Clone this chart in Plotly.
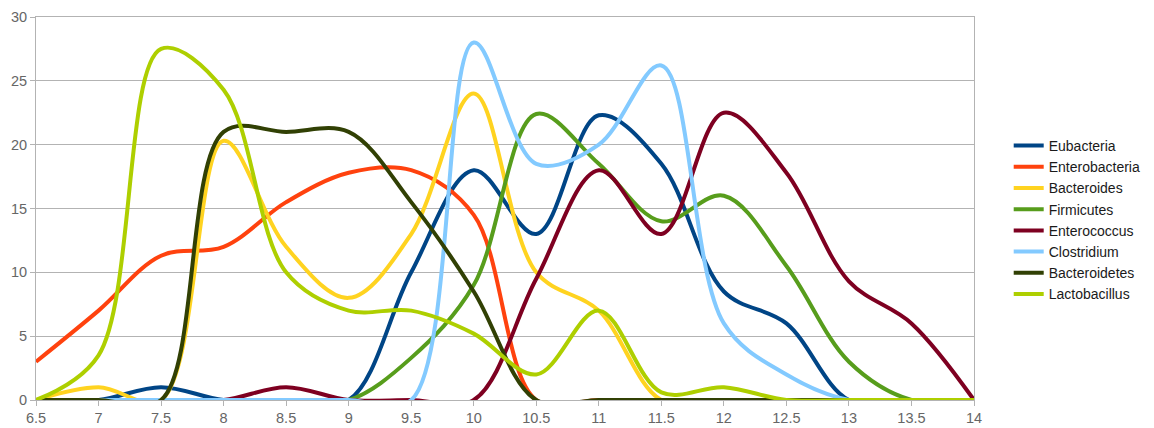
import plotly.graph_objects as go

x_vals = [6.5, 7, 7.5, 8, 8.5, 9, 9.5, 10, 10.5, 11, 11.5, 12, 12.5, 13, 13.5, 14]

eubacteria = [0, 0, 1, 0, 0, 0, 10, 18, 13, 22.3, 18.5, 8.5, 6, 0, 0, 0]
enterobacteria = [3, 7, 11.3, 12, 15.5, 17.8, 18, 14.5, 0, 0, 0, 0, 0, 0, 0, 0]
bacteroides = [0, 1, 0, 20.3, 12, 8, 13, 24, 10, 7, 0, 0, 0, 0, 0, 0]
firmicutes = [0, 0, 0, 0, 0, 0, 3.3, 9, 22.4, 18.5, 14, 16, 10.5, 3, 0, 0]
enterococcus = [0, 0, 0, 0, 1, 0, 0, 0, 9.5, 18, 13, 22.5, 17.8, 9.3, 6, 0]
clostridium = [0, 0, 0, 0, 0, 0, 0, 28, 18.5, 20, 26.2, 6, 2, 0, 0, 0]
bacteroidetes = [0, 0, 0, 21, 21, 21, 15.5, 8.5, 0, 0, 0, 0, 0, 0, 0, 0]
lactobacillus = [0, 3.5, 27.5, 24.3, 10, 7, 7, 5.2, 2, 7, 0.6, 1, 0, 0, 0, 0]

series_names = ["Eubacteria", "Enterobacteria", "Bacteroides", "Firmicutes",
                "Enterococcus", "Clostridium", "Bacteroidetes", "Lactobacillus"]
series_values = [eubacteria, enterobacteria, bacteroides, firmicutes,
                 enterococcus, clostridium, bacteroidetes, lactobacillus]
colors = ["#004586", "#ff420e", "#ffd320", "#579d1c",
          "#7e0021", "#83caff", "#314004", "#aecf00"]

x_ticks = [6.5, 7, 7.5, 8, 8.5, 9, 9.5, 10, 10.5, 11, 11.5, 12, 12.5, 13, 13.5, 14]
x_tick_labels = ["6.5", "7", "7.5", "8", "8.5", "9", "9.5", "10", "10.5", "11",
                 "11.5", "12", "12.5", "13", "13.5", "14"]
y_ticks = [0, 5, 10, 15, 20, 25, 30]

fig = go.Figure()
for name, vals, col in zip(series_names, series_values, colors):
    fig.add_trace(go.Scatter(
        x=x_vals, y=vals, name=name, mode="lines",
        line=dict(color=col, width=4, shape="spline", smoothing=1.0),
    ))

grid = "#b3b3b3"
fig.update_layout(
    width=1146, height=420,
    margin=dict(l=28, r=180, t=9, b=28, autoexpand=False),
    paper_bgcolor="white", plot_bgcolor="white",
    font=dict(family="Liberation Sans, Arial, sans-serif", size=14.5, color="#666666"),
    showlegend=True,
    legend=dict(
        x=1.037, y=0.47, xanchor="left", yanchor="middle",
        font=dict(size=14, color="#1a1a1a"),
        tracegroupgap=0, itemwidth=30,
        bgcolor="rgba(0,0,0,0)",
    ),
    xaxis=dict(
        range=[6.5, 14], tickvals=x_ticks, ticktext=x_tick_labels,
        showgrid=False, zeroline=False, automargin=False,
        ticklabeloverflow="allow",
        showline=True, linecolor=grid, linewidth=1, mirror=True,
        ticks="outside", ticklen=5, tickcolor=grid,
    ),
    yaxis=dict(
        range=[0, 30], tickvals=y_ticks, automargin=False,
        ticklabeloverflow="allow",
        showgrid=True, gridcolor=grid, gridwidth=1, zeroline=False,
        showline=True, linecolor=grid, linewidth=1, mirror=True,
        ticks="outside", ticklen=5, tickcolor=grid,
    ),
)

fig.write_html("out.html")
